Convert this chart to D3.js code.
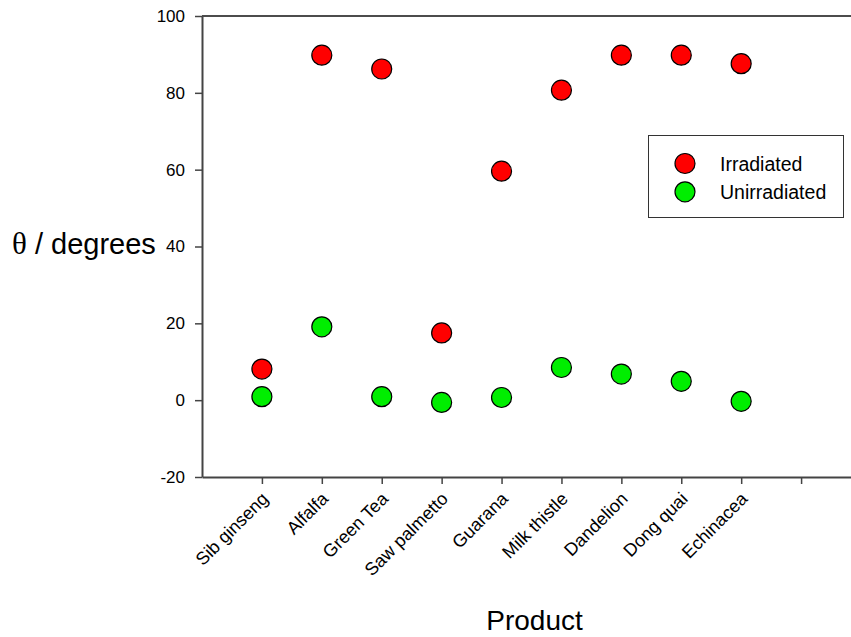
<!DOCTYPE html>
<html>
<head>
<meta charset="utf-8">
<script src="https://cdn.jsdelivr.net/npm/d3@7/dist/d3.min.js"></script>
<style>
  html, body { margin: 0; padding: 0; background: #fff; }
  svg { display: block; }
  text { font-family: "Liberation Sans", Arial, sans-serif; fill: #000; }
</style>
</head>
<body>
<svg id="chart" width="851" height="637"></svg>
<script>
// Products measured (one slot per x tick; the last tick has no product)
const products = ["Sib ginseng", "Alfalfa", "Green Tea", "Saw palmetto", "Guarana",
                  "Milk thistle", "Dandelion", "Dong quai", "Echinacea"];
// Angle θ in degrees for each product
const irradiated   = [8.1, 89.8, 86.2, 17.5, 59.6, 80.7, 89.8, 89.8, 87.6];
const unirradiated = [0.9, 19.1, 0.9, -0.6, 0.7, 8.5, 6.8, 4.9, -0.3];
const yTicks = [-20, 0, 20, 40, 60, 80, 100];
const seriesNames = ["Irradiated", "Unirradiated"];
const seriesColors = ["#ff0000", "#00ee00"];

const svg = d3.select("#chart");
const axisColor = "#444";
const sans = '"Liberation Sans", Arial, sans-serif';

const x = d3.scaleLinear().domain([-1, 10]).range([202, 861]);
const y = d3.scaleLinear().domain([-20, 100]).range([477, 16]);

// top frame line
svg.append("line")
  .attr("x1", x(-1)).attr("x2", x(10))
  .attr("y1", y(100)).attr("y2", y(100))
  .attr("stroke", "#111").attr("stroke-width", 1.5);

// y axis
const yAxis = svg.append("g")
  .attr("transform", `translate(${x(-1)},0)`)
  .call(d3.axisLeft(y).tickValues(yTicks).tickSize(7).tickSizeOuter(0).tickPadding(10)
        .tickFormat(d => String(d)));
yAxis.select(".domain").attr("stroke", axisColor).attr("stroke-width", 2);
yAxis.selectAll(".tick line").attr("stroke", axisColor).attr("stroke-width", 1.5);
yAxis.selectAll(".tick text")
  .style("font-family", sans)
  .style("font-size", "17px").attr("fill", "#000");

// x axis
const xAxis = svg.append("g")
  .attr("transform", `translate(0,${y(-20)})`)
  .call(d3.axisBottom(x).tickValues(d3.range(10)).tickSize(7).tickSizeOuter(0)
        .tickFormat(i => products[i] || ""));
xAxis.select(".domain").attr("stroke", axisColor).attr("stroke-width", 2);
xAxis.selectAll(".tick line").attr("stroke", axisColor).attr("stroke-width", 1.5);
xAxis.selectAll(".tick text")
  .style("font-family", sans)
  .style("font-size", "18px").attr("fill", "#000")
  .attr("text-anchor", "end")
  .attr("dy", null)
  .attr("y", null)
  .attr("transform", "translate(7,23) rotate(-45)");

// data points
const series = [irradiated, unirradiated];
series.forEach((vals, s) => {
  svg.append("g").selectAll("circle")
    .data(vals)
    .join("circle")
    .attr("cx", (d, i) => x(i))
    .attr("cy", d => y(d))
    .attr("r", 10)
    .attr("fill", seriesColors[s])
    .attr("stroke", "#000")
    .attr("stroke-width", 1.2);
});

// legend
const legend = svg.append("g");
legend.append("rect")
  .attr("x", 648.5).attr("y", 135.5).attr("width", 195).attr("height", 82)
  .attr("fill", "#fff").attr("stroke", "#333").attr("stroke-width", 1);
seriesNames.forEach((name, s) => {
  const cy = 163.5 + s * 28.3;
  legend.append("circle")
    .attr("cx", 685).attr("cy", cy).attr("r", 10)
    .attr("fill", seriesColors[s]).attr("stroke", "#000").attr("stroke-width", 1.2);
  legend.append("text")
    .attr("x", 720).attr("y", cy + 7)
    .style("font-size", "19.5px")
    .text(name);
});

// axis titles
svg.append("text")
  .attr("x", 12).attr("y", 254)
  .style("font-size", "29px")
  .html('<tspan style="font-family: \'Liberation Serif\', \'Times New Roman\', serif; font-size: 31px">θ</tspan> / degrees');

svg.append("text")
  .attr("x", 534.5).attr("y", 630)
  .attr("text-anchor", "middle")
  .style("font-size", "28px")
  .text("Product");
</script>
</body>
</html>
